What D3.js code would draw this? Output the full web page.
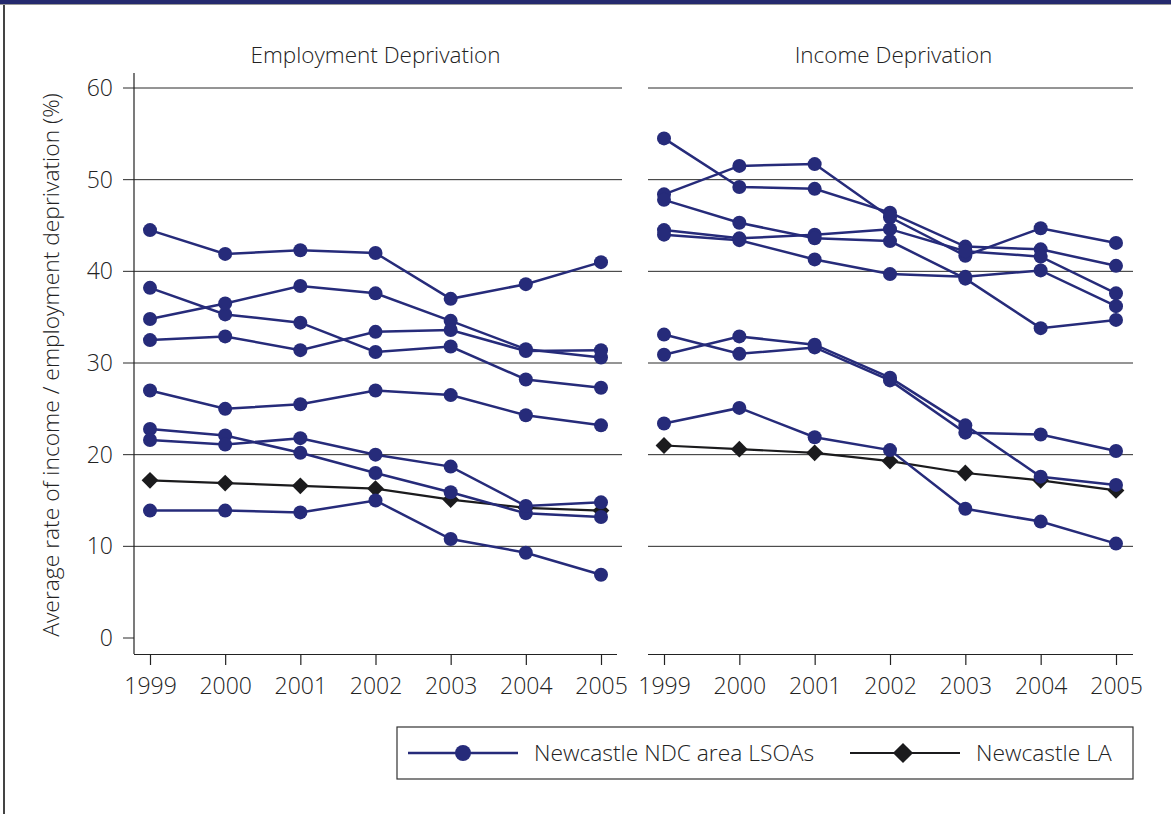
<!DOCTYPE html>
<html>
<head>
<meta charset="utf-8">
<script src="https://cdn.jsdelivr.net/npm/d3@7"></script>
<style>
  body { margin: 0; background: #fff; }
  svg { display: block; font-family: "Open Sans", "Noto Sans", sans-serif; font-weight: 300; }
</style>
</head>
<body>
<div id="chart"></div>
<script>
// years on the x axis
var years = [1999, 2000, 2001, 2002, 2003, 2004, 2005];
var yTicks = [0, 10, 20, 30, 40, 50, 60];
var panelTitles = ["Employment Deprivation", "Income Deprivation"];

// employment deprivation, one array per LSOA
var empLsoa = [
  [44.5, 41.9, 42.3, 42.0, 37.0, 38.6, 41.0],
  [38.2, 35.3, 34.4, 31.2, 31.8, 28.2, 27.3],
  [34.8, 36.5, 38.4, 37.6, 34.6, 31.5, 30.6],
  [32.5, 32.9, 31.4, 33.4, 33.6, 31.3, 31.4],
  [27.0, 25.0, 25.5, 27.0, 26.5, 24.3, 23.2],
  [22.8, 22.1, 20.2, 18.0, 15.9, 13.6, 13.2],
  [21.6, 21.1, 21.8, 20.0, 18.7, 14.4, 14.8],
  [13.9, 13.9, 13.7, 15.0, 10.8, 9.3, 6.9]
];
var empLA = [17.2, 16.9, 16.6, 16.3, 15.1, 14.2, 13.9];

// income deprivation, one array per LSOA
var incLsoa = [
  [54.5, 49.2, 49.0, 46.4, 42.7, 42.4, 40.6],
  [48.4, 51.5, 51.7, 45.9, 41.7, 44.7, 43.1],
  [44.5, 43.6, 44.0, 44.6, 42.2, 41.6, 37.6],
  [44.0, 43.4, 41.3, 39.7, 39.4, 40.1, 36.2],
  [47.8, 45.3, 43.6, 43.3, 39.2, 33.8, 34.7],
  [33.1, 31.0, 31.7, 28.1, 22.4, 22.2, 20.4],
  [30.9, 32.9, 32.0, 28.4, 23.2, 17.6, 16.7],
  [23.4, 25.1, 21.9, 20.5, 14.1, 12.7, 10.3]
];
var incLA = [21.0, 20.6, 20.2, 19.3, 18.0, 17.2, 16.1];

var legendLabels = ["Newcastle NDC area LSOAs", "Newcastle LA"];

var width = 1171, height = 814;
var navy = "#262b7a", black = "#1b1b1d";

var svg = d3.select("#chart").append("svg")
  .attr("width", width)
  .attr("height", height);

// frame: top band and left rule
svg.append("rect").attr("x", 0).attr("y", 0).attr("width", width).attr("height", 4).attr("fill", "#252a6e");
svg.append("line").attr("x1", 0).attr("x2", width).attr("y1", 4.5).attr("y2", 4.5).attr("stroke", "#999").attr("stroke-width", 1);
svg.append("line").attr("x1", 4).attr("x2", 4).attr("y1", 5).attr("y2", height).attr("stroke", "#444").attr("stroke-width", 2);

var y = d3.scaleLinear().domain([0, 60]).range([638, 88]);

var panels = [
  { title: panelTitles[0], lsoa: empLsoa, la: empLA, x0: 150, x1: 601, gx0: 123, gx1: 622, ax0: 134, ax1: 617, yaxis: true },
  { title: panelTitles[1], lsoa: incLsoa, la: incLA, x0: 664, x1: 1116, gx0: 648, gx1: 1133, ax0: 648, ax1: 1133, yaxis: false }
];

panels.forEach(function(p) {
  var x = d3.scalePoint().domain(years).range([p.x0, p.x1]);
  var g = svg.append("g");

  // gridlines (left panel: the 0 line is only a tick)
  g.selectAll("line.grid")
    .data(yTicks.filter(function(t) { return t > 0; }).concat(p.yaxis ? [0] : []))
    .enter().append("line")
      .attr("x1", p.gx0)
      .attr("x2", function(d) { return d === 0 ? p.ax0 : p.gx1; })
      .attr("y1", function(d) { return y(d); })
      .attr("y2", function(d) { return y(d); })
      .attr("stroke", "#2a2a2a")
      .attr("stroke-width", 1);

  if (p.yaxis) {
    g.append("line").attr("x1", p.ax0).attr("x2", p.ax0).attr("y1", 73).attr("y2", 654)
      .attr("stroke", "#222").attr("stroke-width", 1.2);
    g.selectAll("text.ytick").data(yTicks).enter().append("text")
      .attr("x", 113).attr("y", function(d) { return y(d); })
      .attr("dy", "0.35em")
      .attr("text-anchor", "end")
      .attr("font-size", 23)
      .attr("fill", "#222")
      .text(function(d) { return d; });
  }

  // x axis
  var xa = g.append("g").attr("transform", "translate(0,654)")
    .call(d3.axisBottom(x).tickSize(11).tickPadding(13).tickFormat(d3.format("d")))
    .attr("font-family", null).attr("font-size", null);
  xa.select(".domain").attr("d", "M" + p.ax0 + ",0.5H" + p.ax1).attr("stroke", "#222").attr("stroke-width", 1.2);
  xa.selectAll(".tick line").attr("stroke", "#222").attr("stroke-width", 1.2);
  xa.selectAll(".tick text").attr("font-size", 23).attr("fill", "#222");

  // panel title
  g.append("text")
    .attr("x", (p.gx0 + p.gx1) / 2 + 3)
    .attr("y", 63)
    .attr("text-anchor", "middle")
    .attr("font-size", 22.5)
    .attr("fill", "#222")
    .text(p.title);

  var line = d3.line()
    .x(function(d, i) { return x(years[i]); })
    .y(function(d) { return y(d); });

  // LA series
  g.append("path").attr("d", line(p.la)).attr("fill", "none")
    .attr("stroke", black).attr("stroke-width", 2.2);
  g.selectAll("path.dia").data(p.la).enter().append("path")
    .attr("d", d3.symbol().type(d3.symbolDiamond2).size(180))
    .attr("transform", function(d, i) { return "translate(" + x(years[i]) + "," + y(d) + ")"; })
    .attr("fill", black);

  // LSOA series
  p.lsoa.forEach(function(s) {
    g.append("path").attr("d", line(s)).attr("fill", "none")
      .attr("stroke", navy).attr("stroke-width", 2.5);
  });
  p.lsoa.forEach(function(s) {
    g.selectAll(null).data(s).enter().append("circle")
      .attr("cx", function(d, i) { return x(years[i]); })
      .attr("cy", function(d) { return y(d); })
      .attr("r", 7)
      .attr("fill", navy);
  });
});

// y axis title
svg.append("text")
  .attr("transform", "translate(59,365) rotate(-90)")
  .attr("text-anchor", "middle")
  .attr("font-size", 22.8)
  .attr("fill", "#222")
  .text("Average rate of income / employment deprivation (%)");

// legend
var lg = svg.append("g");
lg.append("rect").attr("x", 397).attr("y", 727).attr("width", 736).attr("height", 52)
  .attr("fill", "none").attr("stroke", "#333").attr("stroke-width", 1.2);
var ly = 753;
lg.append("line").attr("x1", 408).attr("x2", 518).attr("y1", ly).attr("y2", ly).attr("stroke", navy).attr("stroke-width", 2.5);
lg.append("circle").attr("cx", 463).attr("cy", ly).attr("r", 8).attr("fill", navy);
lg.append("text").attr("x", 534).attr("y", ly).attr("dy", "0.35em").attr("font-size", 22.8).attr("fill", "#222").text(legendLabels[0]);
lg.append("line").attr("x1", 850).attr("x2", 960).attr("y1", ly).attr("y2", ly).attr("stroke", black).attr("stroke-width", 2.2);
lg.append("path").attr("d", d3.symbol().type(d3.symbolDiamond2).size(260))
  .attr("transform", "translate(903," + ly + ")").attr("fill", black);
lg.append("text").attr("x", 976).attr("y", ly).attr("dy", "0.35em").attr("font-size", 22.8).attr("fill", "#222").text(legendLabels[1]);
</script>
</body>
</html>
